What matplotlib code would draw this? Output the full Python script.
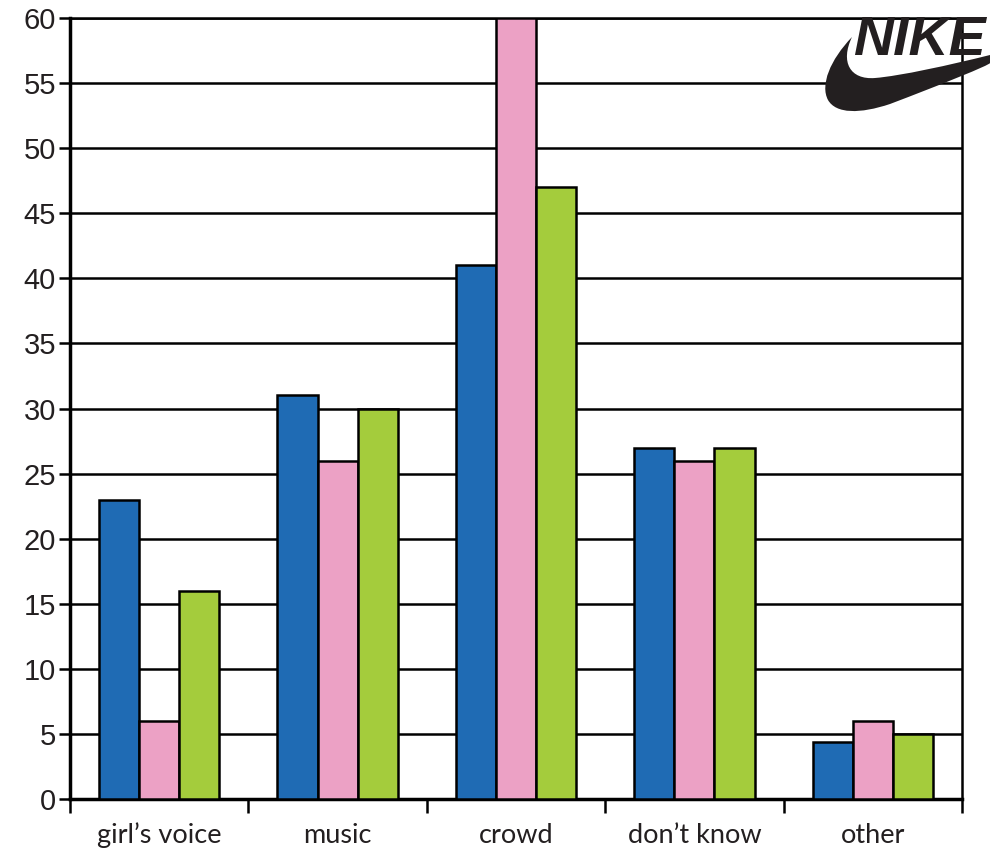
import matplotlib
matplotlib.use("Agg")
import matplotlib.pyplot as plt
import numpy as np
from matplotlib.path import Path
from matplotlib.patches import PathPatch

categories = ["girl\u2019s voice", "music", "crowd", "don\u2019t know", "other"]
series_blue = [23, 31, 41, 27, 4.4]
series_pink = [6, 26, 60, 26, 6]
series_green = [16, 30, 47, 27, 5]
y_ticks = list(range(0, 61, 5))

colors = ["#1f6bb4", "#eca1c5", "#a4cc3c"]

W, H = 990, 858
fig = plt.figure(figsize=(W / 100, H / 100), dpi=100)
ax = fig.add_axes([70 / W, (H - 799) / H, (962 - 70) / W, (799 - 18) / H])

x = np.arange(len(categories))
bw = 0.225
for off, vals, c in zip([-bw, 0, bw], [series_blue, series_pink, series_green], colors):
    ax.bar(x + off, vals, width=bw, color=c, edgecolor="black", linewidth=1.8, zorder=3)

ax.set_xlim(-0.5, len(categories) - 0.5)
ax.set_ylim(0, 60)
ax.set_yticks(y_ticks)
ax.set_yticklabels([str(t) for t in y_ticks], fontfamily=["Liberation Sans", "DejaVu Sans"],
                   fontsize=21, color="#231f20")
ax.yaxis.grid(True, color="black", linewidth=1.8, zorder=0)
ax.set_axisbelow(True)

ax.set_xticks(np.arange(len(categories) + 1) - 0.5)
ax.set_xticklabels([])
ax.set_xticks(x, minor=True)
ax.set_xticklabels(categories, minor=True, fontfamily=["Lato", "DejaVu Sans"], fontsize=19.5, color="#231f20")
ax.tick_params(axis="x", which="major", direction="out", length=10, width=1.8, color="black")
ax.tick_params(axis="x", which="minor", length=0, pad=17)
ax.tick_params(axis="y", direction="out", length=8, width=1.8, pad=2)

for s in ["left", "bottom"]:
    ax.spines[s].set_linewidth(2.5)
for s in ["right", "top"]:
    ax.spines[s].set_linewidth(1.8)

# Nike logo decoration
fig.text(853 / W, 1 - 55 / H, "NIKE", fontsize=40, fontweight="bold", fontstyle="italic",
         fontfamily=["Liberation Sans", "DejaVu Sans"], color="#231f20",
         ha="left", va="baseline")

def px(xp, yp):
    return (xp / W, 1 - yp / H)

verts = [px(852, 37),
         px(830, 60), px(820, 85), px(828, 100),
         px(836, 114), px(860, 114), px(890, 104),
         px(940, 85), px(990, 65), px(990, 63),
         px(990, 55), px(990, 55), px(990, 55),
         px(950, 65), px(900, 76), px(875, 78),
         px(850, 80), px(840, 62), px(852, 37),
         px(852, 37)]
codes = [Path.MOVETO,
         Path.CURVE4, Path.CURVE4, Path.CURVE4,
         Path.CURVE4, Path.CURVE4, Path.CURVE4,
         Path.CURVE4, Path.CURVE4, Path.CURVE4,
         Path.CURVE4, Path.CURVE4, Path.CURVE4,
         Path.CURVE4, Path.CURVE4, Path.CURVE4,
         Path.CURVE4, Path.CURVE4, Path.CURVE4,
         Path.CLOSEPOLY]
swoosh = PathPatch(Path(verts, codes), facecolor="#231f20", edgecolor="none",
                   transform=fig.transFigure)
fig.patches.append(swoosh)

fig.savefig("out.png", dpi=100)
